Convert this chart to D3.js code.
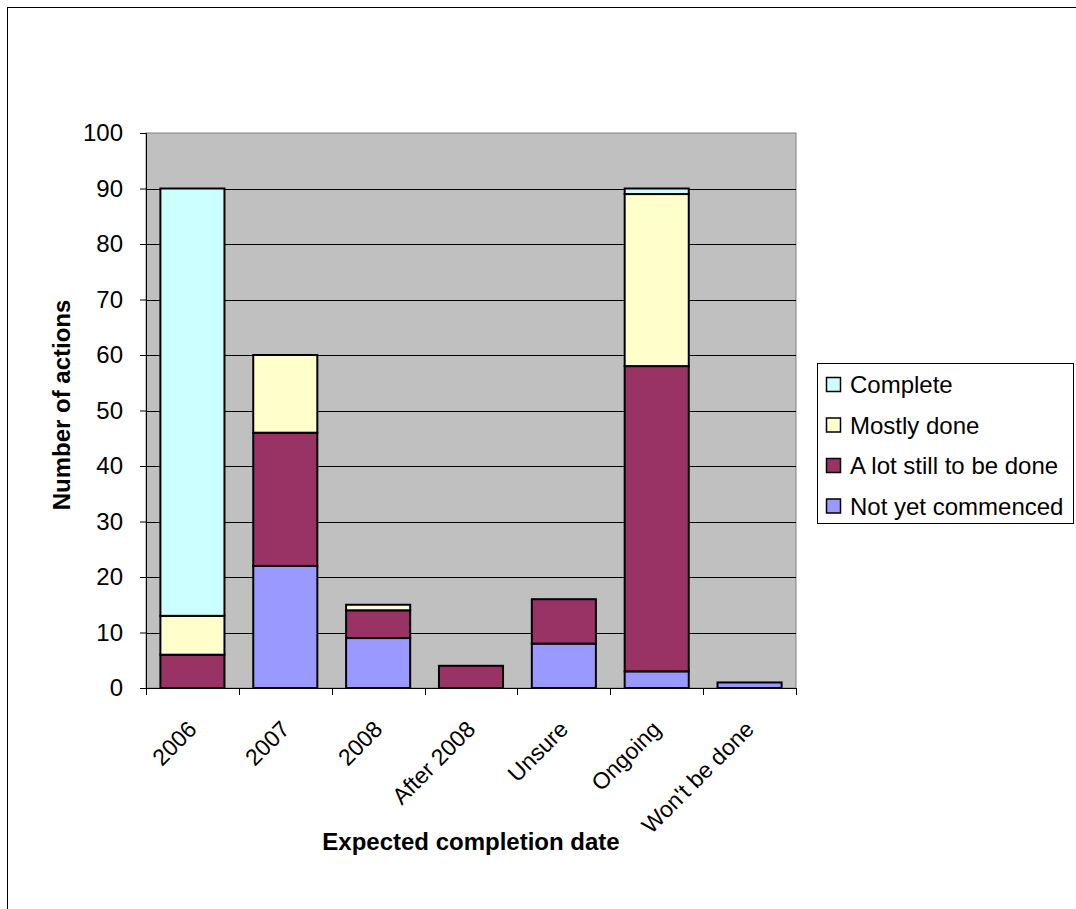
<!DOCTYPE html>
<html>
<head>
<meta charset="utf-8">
<script src="https://cdn.jsdelivr.net/npm/d3@7"></script>
<style>
  html, body { margin: 0; padding: 0; background: #fff; }
  svg { display: block; font-family: "Liberation Sans", Arial, sans-serif; }
</style>
</head>
<body>
<svg id="chart" width="1076" height="909"></svg>
<script>
// Expected completion date categories
const categories = ["2006", "2007", "2008", "After 2008", "Unsure", "Ongoing", "Won't be done"];

// Status series (stacked bottom to top)
const notYetCommenced = [0, 22, 9, 0, 8, 3, 1];
const aLotStillToBeDone = [6, 24, 5, 4, 8, 55, 0];
const mostlyDone = [7, 14, 1, 0, 0, 31, 0];
const complete = [77, 0, 0, 0, 0, 1, 0];

const seriesNames = ["Not yet commenced", "A lot still to be done", "Mostly done", "Complete"];
const seriesColors = ["#9999ff", "#993366", "#ffffcc", "#ccffff"];
const yTicks = [0, 10, 20, 30, 40, 50, 60, 70, 80, 90, 100];

const rows = categories.map((c, i) => ({
  category: c,
  "Not yet commenced": notYetCommenced[i],
  "A lot still to be done": aLotStillToBeDone[i],
  "Mostly done": mostlyDone[i],
  "Complete": complete[i]
}));

const svg = d3.select("#chart");

// Outer chart frame
svg.append("rect")
  .attr("x", 7.5).attr("y", 7.5)
  .attr("width", 1080).attr("height", 920)
  .attr("fill", "#fff").attr("stroke", "#000").attr("stroke-width", 1);

const plot = { left: 146, right: 796, top: 133, bottom: 688 };

const x = d3.scaleBand()
  .domain(categories)
  .range([plot.left, plot.right])
  .padding(0);

const y = d3.scaleLinear()
  .domain([0, 100])
  .range([plot.bottom, plot.top]);

// Plot area background
svg.append("rect")
  .attr("x", plot.left).attr("y", plot.top)
  .attr("width", plot.right - plot.left).attr("height", plot.bottom - plot.top)
  .attr("fill", "#c0c0c0")
  .attr("stroke", "#808080").attr("stroke-width", 1);

// Horizontal gridlines
svg.append("g")
  .selectAll("line")
  .data(yTicks.filter(t => t > 0 && t < 100))
  .join("line")
  .attr("x1", plot.left).attr("x2", plot.right)
  .attr("y1", d => Math.round(y(d)) + 0.5).attr("y2", d => Math.round(y(d)) + 0.5)
  .attr("stroke", "#000").attr("stroke-width", 1);

// Stacked bars
const stack = d3.stack().keys(seriesNames);
const stacked = stack(rows);
const barW = x.bandwidth() * 0.69;

const layers = svg.append("g")
  .selectAll("g")
  .data(stacked)
  .join("g")
  .attr("fill", (d, i) => seriesColors[i]);

layers.selectAll("rect")
  .data(d => d.filter(s => s[1] - s[0] > 0).map(s => ({ s, cat: s.data.category })))
  .join("rect")
  .attr("x", d => x(d.cat) + (x.bandwidth() - barW) / 2)
  .attr("y", d => y(d.s[1]))
  .attr("width", barW)
  .attr("height", d => y(d.s[0]) - y(d.s[1]))
  .attr("stroke", "#000")
  .attr("stroke-width", 2);

// Y axis
const yAxis = d3.axisLeft(y)
  .tickValues(yTicks)
  .tickSize(6)
  .tickPadding(17)
  .tickFormat(d3.format("d"));

const yG = svg.append("g")
  .attr("transform", `translate(${plot.left},0)`)
  .call(yAxis);
yG.select(".domain").attr("stroke", "#000").attr("d", `M-6,${plot.top}.5H0.5V${plot.bottom}`);
yG.selectAll(".tick line").attr("stroke", "#000");
yG.selectAll(".tick text")
  .attr("fill", "#000")
  .style("font-size", "24px")
  .style("font-family", "Liberation Sans, Arial, sans-serif");

// X axis: ticks on category boundaries
const xG = svg.append("g");
xG.append("line")
  .attr("x1", plot.left).attr("x2", plot.right)
  .attr("y1", plot.bottom + 0.5).attr("y2", plot.bottom + 0.5)
  .attr("stroke", "#000");
const boundaries = categories.map(c => x(c)).concat([x(categories[categories.length - 1]) + x.bandwidth()]);
xG.selectAll("line.tk")
  .data(boundaries)
  .join("line")
  .attr("class", "tk")
  .attr("x1", d => Math.round(d) + 0.5).attr("x2", d => Math.round(d) + 0.5)
  .attr("y1", plot.bottom).attr("y2", plot.bottom + 7)
  .attr("stroke", "#000");

xG.selectAll("text")
  .data(categories)
  .join("text")
  .attr("transform", d => `translate(${x(d) + x.bandwidth() / 2 - 6},${plot.bottom + 31}) rotate(-45)`)
  .attr("text-anchor", "end")
  .attr("dy", "0.72em")
  .style("font-size", "23px")
  .text(d => d);

// Axis titles
svg.append("text")
  .attr("transform", `translate(70,405) rotate(-90)`)
  .attr("text-anchor", "middle")
  .style("font-size", "24px")
  .style("font-weight", "bold")
  .text("Number of actions");

svg.append("text")
  .attr("x", 471).attr("y", 850)
  .attr("text-anchor", "middle")
  .style("font-size", "24px")
  .style("font-weight", "bold")
  .text("Expected completion date");

// Legend (top to bottom: Complete first)
const legend = svg.append("g");
legend.append("rect")
  .attr("x", 817.5).attr("y", 363.5)
  .attr("width", 256).attr("height", 160)
  .attr("fill", "#fff").attr("stroke", "#000");

const legendOrder = seriesNames.map((n, i) => ({ n, c: seriesColors[i] })).reverse();
const li = legend.selectAll("g.item")
  .data(legendOrder)
  .join("g")
  .attr("class", "item")
  .attr("transform", (d, i) => `translate(826,${384.5 + i * 40.5})`);
li.append("rect")
  .attr("x", 0.5).attr("y", -7)
  .attr("width", 14).attr("height", 14)
  .attr("fill", d => d.c).attr("stroke", "#000").attr("stroke-width", 1.5);
li.append("text")
  .attr("x", 24).attr("y", 0)
  .attr("dy", "0.36em")
  .style("font-size", "24px")
  .text(d => d.n);
</script>
</body>
</html>
